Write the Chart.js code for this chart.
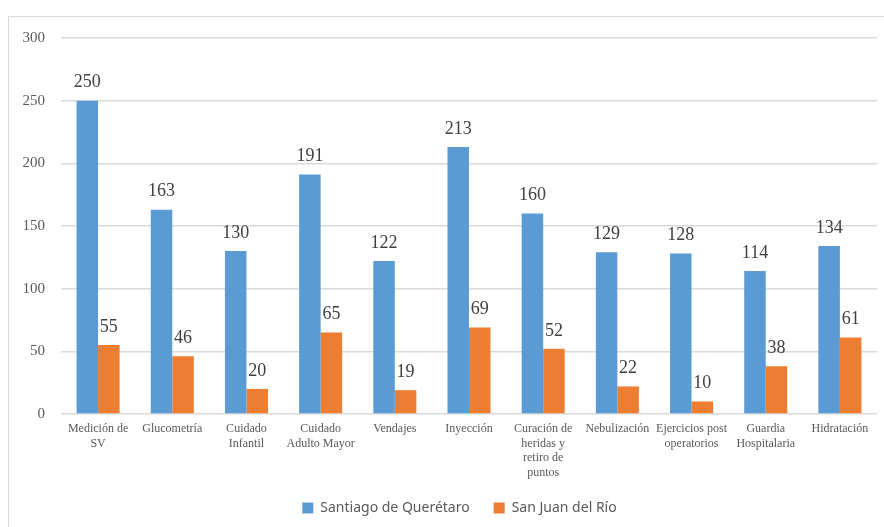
<!DOCTYPE html>
<html>
<head>
<meta charset="utf-8">
<script src="https://cdn.jsdelivr.net/npm/chart.js@4"></script>
<style>
  body { margin: 0; background: #fff; }
  #frame { position: absolute; left: 8px; top: 16px; right: 0; bottom: 0;
           border-top: 1px solid #d9d9d9; border-left: 1px solid #d9d9d9; }
  #wrap { position: absolute; left: 0; top: 0; width: 884px; height: 527px; }
</style>
</head>
<body>
<div id="frame"></div>
<div id="wrap"><canvas id="myChart"></canvas></div>
<script>
const categories = [
    ["Medición de", "SV"],
    "Glucometría",
    ["Cuidado", "Infantil"],
    ["Cuidado", "Adulto Mayor"],
    "Vendajes",
    "Inyección",
    ["Curación de", "heridas y", "retiro de", "puntos"],
    "Nebulización",
    ["Ejercicios post", "operatorios"],
    ["Guardia", "Hospitalaria"],
    "Hidratación"
];
const queretaro = [250, 163, 130, 191, 122, 213, 160, 129, 128, 114, 134];
const sanJuan = [55, 46, 20, 65, 19, 69, 52, 22, 10, 38, 61];
const seriesNames = ["Santiago de Querétaro", "San Juan del Río"];

// numbers above the bars
const barLabels = {
    id: 'barLabels',
    afterDatasetsDraw(chart) {
        const ctx = chart.ctx;
        ctx.save();
        ctx.font = '18px "Liberation Serif", serif';
        ctx.fillStyle = '#404040';
        ctx.textAlign = 'center';
        ctx.textBaseline = 'bottom';
        chart.data.datasets.forEach((ds, i) => {
            chart.getDatasetMeta(i).data.forEach((bar, j) => {
                ctx.fillText(ds.data[j], bar.x, bar.y - 9);
            });
        });
        ctx.restore();
    }
};

// legend in the reference sits a bit right of centre and a little higher
const shiftLegend = {
    id: 'shiftLegend',
    afterLayout(chart) {
        const lg = chart.legend;
        lg.left += 21;
        lg.right += 21;
        lg.top -= 2;
        lg.bottom -= 2;
    }
};

const ctx = document.getElementById('myChart').getContext('2d');
new Chart(ctx, {
    type: 'bar',
    data: {
        labels: categories,
        datasets: [
            { label: seriesNames[0], data: queretaro, backgroundColor: '#5B9BD5' },
            { label: seriesNames[1], data: sanJuan, backgroundColor: '#ED7D31' }
        ]
    },
    options: {
        responsive: true,
        maintainAspectRatio: false,
        animation: false,
        layout: { padding: { left: 0, right: 7, top: 38, bottom: 0 } },
        datasets: { bar: { categoryPercentage: 0.58, barPercentage: 1 } },
        plugins: {
            legend: {
                position: 'bottom',
                labels: {
                    boxWidth: 11,
                    boxHeight: 11,
                    padding: 24,
                    color: '#595959',
                    font: { family: '"Noto Sans", sans-serif', size: 14 }
                }
            },
            tooltip: { enabled: false }
        },
        scales: {
            x: {
                grid: { display: false },
                border: { display: false },
                ticks: {
                    maxRotation: 0,
                    autoSkip: false,
                    padding: 0,
                    color: '#595959',
                    font: { family: '"Liberation Serif", serif', size: 12, lineHeight: 1.2 }
                },
                afterFit: function(scale) { scale.height = 65; }
            },
            y: {
                min: 0,
                max: 300,
                grid: { color: '#d9d9d9', lineWidth: 1.5, drawTicks: false },
                border: { display: false },
                ticks: {
                    stepSize: 50,
                    padding: 16,
                    color: '#595959',
                    font: { family: '"Liberation Serif", serif', size: 15 }
                },
                afterFit: function(scale) { scale.width = 61; }
            }
        }
    },
    plugins: [barLabels, shiftLegend]
});
</script>
</body>
</html>
